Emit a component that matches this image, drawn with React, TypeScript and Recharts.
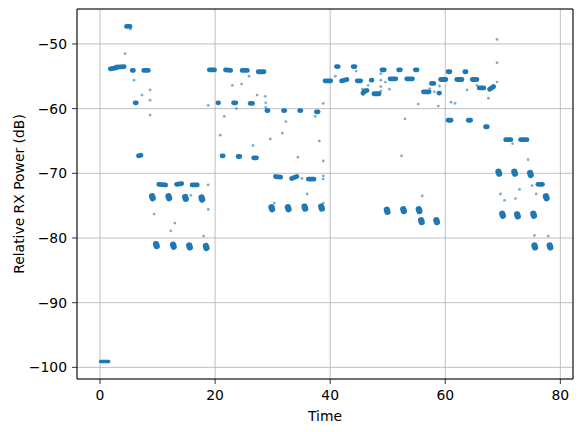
import React from 'react';
import { ScatterChart, Scatter, XAxis, YAxis, CartesianGrid, ReferenceArea } from 'recharts';

const BLUE = '#1f77b4';
const xTicks = [0, 20, 40, 60, 80];
const yTicks = [-100, -90, -80, -70, -60, -50];

// dense horizontal runs: [t0, v0, t1, v1]
const runs: number[][] = [
  [1.8, -53.85, 2.8, -53.7], [2.8, -53.6, 4.2, -53.5],
  [4.6, -47.3, 5.2, -47.3],
  [5.6, -54.1, 5.8, -54.1],
  [6.1, -59.1, 6.3, -59.1],
  [6.7, -67.3, 7.1, -67.2],
  [7.6, -54.1, 8.4, -54.1],
  [10.2, -71.7, 11.4, -71.8],
  [13.3, -71.7, 14.2, -71.6],
  [16.0, -71.8, 16.9, -71.8],
  [19.0, -54.0, 19.9, -54.0],
  [20.5, -59.1, 20.6, -59.1],
  [21.2, -67.3, 21.4, -67.3],
  [21.8, -54.0, 22.7, -54.1],
  [23.2, -59.1, 23.6, -59.1],
  [24.0, -67.4, 24.3, -67.4],
  [24.7, -54.1, 25.6, -54.1],
  [26.1, -59.2, 26.5, -59.2],
  [26.7, -67.6, 27.2, -67.6],
  [27.5, -54.3, 28.5, -54.3],
  [29.0, -60.3, 29.2, -60.3],
  [30.5, -70.5, 31.4, -70.6],
  [31.9, -60.3, 32.1, -60.3],
  [33.3, -70.8, 34.2, -70.5],
  [34.7, -60.3, 34.9, -60.3],
  [36.2, -70.9, 37.2, -70.9],
  [37.6, -60.5, 37.9, -60.5],
  [39.1, -55.7, 40.1, -55.7],
  [41.1, -53.5, 41.4, -53.5],
  [42.0, -55.7, 42.9, -55.5],
  [44.0, -53.5, 44.3, -53.5],
  [44.7, -55.7, 45.3, -55.7],
  [45.7, -57.6, 46.0, -57.3], [46.0, -57.3, 46.4, -57.2],
  [47.15, -55.6, 47.25, -55.6],
  [47.6, -57.7, 48.5, -57.7],
  [49.0, -54.0, 49.4, -54.0],
  [50.4, -55.4, 51.4, -55.4],
  [51.9, -54.0, 52.2, -54.0],
  [53.3, -55.4, 54.3, -55.4],
  [54.8, -54.0, 55.1, -54.0],
  [56.2, -57.4, 57.2, -57.4],
  [57.6, -56.1, 58.0, -56.1],
  [58.9, -57.6, 59.0, -57.6],
  [59.2, -55.5, 60.1, -55.5],
  [60.5, -54.3, 60.8, -54.3],
  [62.0, -55.5, 62.9, -55.5],
  [63.4, -54.3, 63.6, -54.3],
  [64.7, -55.5, 65.5, -55.5],
  [65.9, -56.8, 66.7, -56.8],
  [67.7, -57.0, 68.4, -56.6],
  [60.5, -61.8, 61.0, -61.8],
  [64.0, -61.8, 64.4, -61.8],
  [67.0, -62.8, 67.3, -62.8],
  [70.5, -64.8, 71.4, -64.8],
  [73.1, -64.8, 74.2, -64.8],
  [76.1, -71.7, 76.9, -71.7],
];

// thin run at the start
const floorRun: number[][] = [[0.1, -99.1, 1.5, -99.1]];

// compact blobs: [t, v]
const blobs: number[][] = [
  [9.1, -73.7], [11.95, -73.7], [14.85, -73.8], [17.7, -73.9],
  [9.8, -81.1], [12.75, -81.2], [15.55, -81.3], [18.45, -81.4],
  [29.85, -75.4], [32.7, -75.4], [35.6, -75.3], [38.5, -75.3],
  [49.9, -75.8], [52.75, -75.7], [55.45, -75.7],
  [55.85, -77.4], [58.5, -77.4],
  [69.3, -69.9], [72.05, -69.9], [74.8, -70.1],
  [77.55, -73.7],
  [69.95, -76.4], [72.55, -76.5], [75.35, -76.4],
  [75.55, -81.3], [78.2, -81.3],
];

const strays: number[][] = [
  [4.35, -51.5], [5.3, -47.7], [5.9, -55.6], [7.3, -57.9], [8.7, -57.1], [8.7, -58.7], [8.7, -61.0],
  [9.4, -76.3], [13.0, -77.7], [12.3, -78.9], [15.8, -73.4], [18.8, -71.8], [18.8, -75.6], [18.0, -79.7],
  [18.8, -59.5], [20.9, -64.1], [21.6, -61.2], [23.0, -56.4], [23.7, -60.0], [24.6, -56.2], [25.9, -55.0],
  [26.6, -65.7], [27.3, -57.9], [28.7, -58.1], [28.8, -59.1], [28.8, -59.8], [29.6, -64.7], [30.3, -74.6],
  [31.7, -63.8], [32.3, -62.0], [34.4, -67.5], [35.1, -70.8], [36.0, -73.2], [37.4, -61.2], [38.1, -65.0],
  [38.8, -59.2], [38.8, -68.1], [38.8, -70.4], [38.8, -70.9], [38.8, -74.6], [40.9, -55.0], [44.5, -54.2],
  [45.6, -57.0], [46.6, -56.4], [48.8, -54.6], [48.8, -55.6], [48.8, -56.6], [48.8, -57.3], [49.6, -55.9],
  [50.3, -57.0], [52.4, -67.3], [53.0, -61.6], [55.3, -59.3], [56.0, -73.5], [57.3, -56.9], [58.1, -57.4],
  [59.0, -56.5], [58.8, -59.6], [61.0, -59.0], [61.7, -59.2], [63.8, -57.1], [65.5, -56.4], [67.5, -58.4],
  [69.0, -49.3], [69.0, -52.9], [69.0, -55.9], [71.7, -65.4], [74.4, -67.9], [75.1, -71.9], [72.9, -72.5],
  [69.6, -73.2], [70.3, -74.2], [72.2, -73.9], [75.8, -73.2], [75.5, -79.6], [77.9, -79.7],
];

const X_DOMAIN: [number, number] = [-4, 82.2];
const Y_DOMAIN: [number, number] = [-101.8, -44.6];

const font = { fontFamily: 'DejaVu Sans', fontSize: 13.9, fill: '#000' };
const fmt = (v: number) => String(v).replace('-', '\u2212');
const NoShape = () => <g />;
const StrayDot = (p: any) => <circle cx={p.cx} cy={p.cy} r={1.4} fill={BLUE} fillOpacity={0.6} />;

export default function App() {
  const toPts = (r: number[]) => [{ t: r[0], v: r[1] }, { t: r[2], v: r[3] }];
  return (
    <div style={{ position: 'absolute', left: 0, top: 0, width: 583, height: 432, background: '#fff' }}>
      <ScatterChart width={583} height={432} margin={{ top: 9, right: 10, bottom: 0, left: 0 }}>
        <CartesianGrid stroke="#b0b0b0" strokeWidth={0.8} />
        <XAxis
          type="number" dataKey="t" domain={X_DOMAIN} ticks={xTicks} allowDataOverflow
          height={53} axisLine={false} tickSize={5} tickMargin={6}
          tickLine={{ stroke: '#000', strokeWidth: 0.8 }} tick={font} tickFormatter={fmt}
          label={{ value: 'Time', position: 'insideBottom', offset: 11, style: font }}
        />
        <YAxis
          type="number" dataKey="v" domain={Y_DOMAIN} ticks={yTicks} allowDataOverflow
          width={77} axisLine={false} tickSize={5} tickMargin={5}
          tickLine={{ stroke: '#000', strokeWidth: 0.8 }} tick={font} tickFormatter={fmt}
          label={{ value: 'Relative RX Power (dB)', angle: -90, position: 'center', dx: -19, style: { ...font, textAnchor: 'middle' } }}
        />
        {floorRun.map((r, i) => (
          <Scatter key={'f' + i} data={toPts(r)} fill={BLUE} shape={NoShape} isAnimationActive={false}
            line={{ stroke: BLUE, strokeWidth: 3.5, strokeLinecap: 'round' }} />
        ))}
        {runs.map((r, i) => (
          <Scatter key={'r' + i} data={toPts(r)} fill={BLUE} shape={NoShape} isAnimationActive={false}
            line={{ stroke: BLUE, strokeWidth: 4.8, strokeLinecap: 'round' }} />
        ))}
        {blobs.map((b, i) => (
          <Scatter key={'b' + i} data={[{ t: b[0] - 0.05, v: b[1] + 0.15 }, { t: b[0] + 0.05, v: b[1] - 0.15 }]}
            fill={BLUE} shape={NoShape} isAnimationActive={false}
            line={{ stroke: BLUE, strokeWidth: 6.3, strokeLinecap: 'round' }} />
        ))}
        <Scatter data={strays.map(s => ({ t: s[0], v: s[1] }))} fill={BLUE} shape={StrayDot} isAnimationActive={false} />
        <ReferenceArea x1={X_DOMAIN[0]} x2={X_DOMAIN[1]} y1={Y_DOMAIN[0]} y2={Y_DOMAIN[1]}
          fill="none" stroke="#000" strokeWidth={1} ifOverflow="visible" />
      </ScatterChart>
    </div>
  );
}
